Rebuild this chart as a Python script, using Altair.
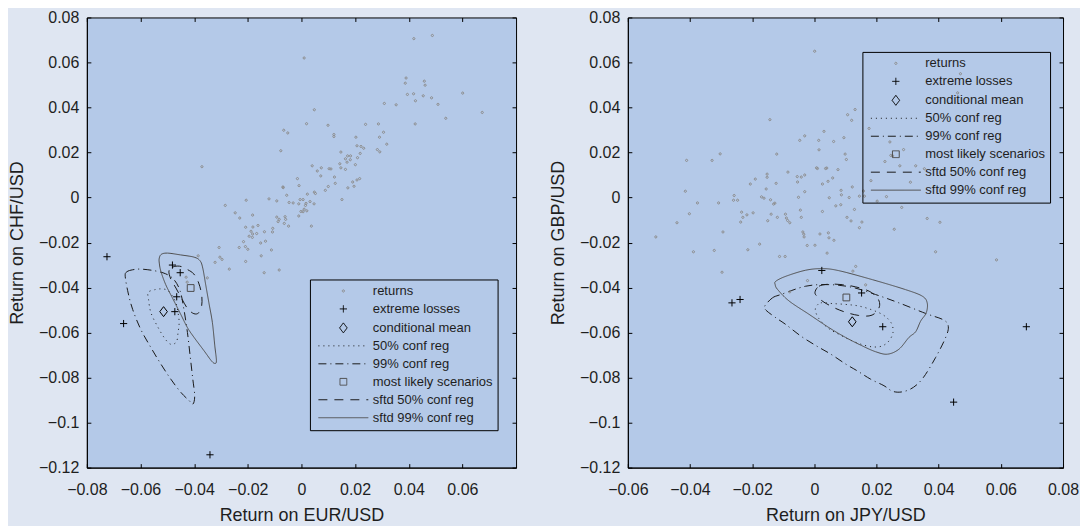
import altair as alt
import pandas as pd

SERIES = ["returns", "extreme losses", "conditional mean", "50% conf reg",
          "99% conf reg", "most likely scenarios", "sftd 50% conf reg", "sftd 99% conf reg"]

# ---------------- left panel (EUR/USD vs CHF/USD) ----------------
L_RET_X = [0.0419, 0.0488, 0.0010, 0.0390, 0.0387, 0.0458, 0.0461, 0.0395, 0.0418, 0.0425,
           0.0454, 0.0485, 0.0601, 0.0509, 0.0538, 0.0674, 0.0309, 0.0353, 0.0424, 0.0239,
           0.0287, 0.0048, 0.0019, 0.0099, -0.0066, -0.0051, 0.0121, 0.0121, 0.0306, 0.0291,
           0.0203, 0.0318, 0.0207, 0.0222, 0.0232, 0.0219, 0.0283, 0.0292, -0.0077, -0.0371,
           0.0147, 0.0164, 0.0172, 0.0183, 0.0182, 0.0170, 0.0143, 0.0147, 0.0164, 0.0201,
           0.0209, 0.0040, 0.0059, 0.0074, 0.0103, 0.0110, 0.0072, 0.0123, 0.0126, 0.0100,
           0.0089, 0.0048, 0.0052, 0.0022, 0.0173, 0.0191, 0.0207, 0.0217, 0.0196, 0.0151,
           -0.0015, -0.0009, -0.0069, -0.0068, -0.0055, -0.0121, -0.0092, -0.0046, -0.0031, -0.0010,
           -0.0005, 0.0006, 0.0017, 0.0032, 0.0047, 0.0015, 0.0010, 0.0020, -0.0002, 0.0006,
           -0.0010, 0.0037, -0.0284, -0.0247, -0.0230, -0.0206, -0.0182, -0.0092, -0.0083, -0.0087,
           -0.0061, -0.0059, -0.0064, -0.0048, -0.0208, -0.0181, -0.0162, -0.0188, -0.0182, -0.0195,
           -0.0183, -0.0167, -0.0138, -0.0107, -0.0108, -0.0216, -0.0232, -0.0209, -0.0200, -0.0152,
           -0.0134, -0.0112, -0.0150, -0.0307, -0.0304, -0.0296, -0.0385, -0.0322, -0.0208, -0.0269,
           -0.0139, -0.0083, -0.0351, -0.0430, -0.0426]
L_RET_Y = [0.0706, 0.0720, 0.0620, 0.0531, 0.0508, 0.0517, 0.0499, 0.0458, 0.0461, 0.0430,
           0.0452, 0.0443, 0.0464, 0.0414, 0.0352, 0.0378, 0.0418, 0.0412, 0.0327, 0.0325,
           0.0327, 0.0390, 0.0328, 0.0321, 0.0299, 0.0287, 0.0280, 0.0271, 0.0290, 0.0268,
           0.0268, 0.0237, 0.0230, 0.0227, 0.0219, 0.0196, 0.0213, 0.0203, 0.0208, 0.0137,
           0.0202, 0.0172, 0.0185, 0.0185, 0.0168, 0.0157, 0.0150, 0.0132, 0.0125, 0.0146,
           0.0177, 0.0141, 0.0118, 0.0132, 0.0128, 0.0127, 0.0096, 0.0091, 0.0063, 0.0049,
           0.0032, 0.0024, 0.0018, 0.0015, 0.0043, 0.0069, 0.0078, 0.0084, 0.0050, -0.0009,
           0.0084, 0.0053, 0.0047, 0.0044, 0.0010, -0.0006, -0.0015, -0.0022, -0.0024, -0.0028,
           -0.0009, -0.0009, -0.0026, -0.0018, -0.0028, -0.0035, -0.0052, -0.0059, -0.0062, -0.0063,
           -0.0082, -0.0127, -0.0035, -0.0068, -0.0091, -0.0012, -0.0078, -0.0087, -0.0097, -0.0107,
           -0.0085, -0.0097, -0.0115, -0.0127, -0.0132, -0.0131, -0.0124, -0.0150, -0.0162, -0.0172,
           -0.0177, -0.0160, -0.0152, -0.0137, -0.0153, -0.0196, -0.0222, -0.0218, -0.0230, -0.0202,
           -0.0194, -0.0233, -0.0259, -0.0222, -0.0265, -0.0275, -0.0259, -0.0288, -0.0284, -0.0318,
           -0.0334, -0.0322, -0.0357, -0.0354, -0.0376]
L_LOSS_X = [-0.0725, -0.0663, -0.0481, -0.0452, -0.0465, -0.0472, -0.0341]
L_LOSS_Y = [-0.0263, -0.0560, -0.0300, -0.0334, -0.0441, -0.0507, -0.1143]
L_MEAN_X = [-0.0514]
L_MEAN_Y = [-0.0507]
L_MLS_X = [-0.0413]
L_MLS_Y = [-0.0402]
L_C50_X = [-0.0571, -0.0570, -0.0561, -0.0536, -0.0509, -0.0487, -0.0466, -0.0460, -0.0456,
           -0.0460, -0.0468, -0.0481, -0.0499, -0.0522, -0.0545]
L_C50_Y = [-0.0421, -0.0453, -0.0512, -0.0574, -0.0627, -0.0652, -0.0641, -0.0600, -0.0556,
           -0.0512, -0.0468, -0.0438, -0.0412, -0.0406, -0.0409]
L_C99_X = [-0.0657, -0.0651, -0.0629, -0.0599, -0.0549, -0.0506, -0.0475, -0.0452, -0.0438,
           -0.0425, -0.0415, -0.0405, -0.0398, -0.0404, -0.0419, -0.0450, -0.0487, -0.0524,
           -0.0561, -0.0599, -0.0629, -0.0646]
L_C99_Y = [-0.0350, -0.0330, -0.0321, -0.0318, -0.0325, -0.0339, -0.0365, -0.0416, -0.0498,
           -0.0600, -0.0703, -0.0807, -0.0880, -0.0917, -0.0902, -0.0865, -0.0807, -0.0740,
           -0.0667, -0.0586, -0.0498, -0.0424]
L_S50_X = [-0.0494, -0.0480, -0.0454, -0.0428, -0.0401, -0.0383, -0.0372, -0.0372, -0.0383,
           -0.0401, -0.0424, -0.0446, -0.0468, -0.0487]
L_S50_Y = [-0.0327, -0.0309, -0.0305, -0.0318, -0.0340, -0.0380, -0.0433, -0.0481, -0.0512,
           -0.0516, -0.0494, -0.0450, -0.0402, -0.0362]
L_S99_X = [-0.0530, -0.0522, -0.0499, -0.0450, -0.0400, -0.0378, -0.0368, -0.0357, -0.0345,
           -0.0332, -0.0323, -0.0317, -0.0323, -0.0336, -0.0363, -0.0400, -0.0425, -0.0450,
           -0.0481, -0.0506, -0.0524, -0.0530]
L_S99_Y = [-0.0269, -0.0252, -0.0247, -0.0255, -0.0265, -0.0281, -0.0313, -0.0387, -0.0468,
           -0.0556, -0.0659, -0.0725, -0.0737, -0.0725, -0.0681, -0.0622, -0.0578, -0.0519,
           -0.0446, -0.0387, -0.0328, -0.0291]

# ---------------- right panel (JPY/USD vs GBP/USD) ----------------
R_RET_X = [0.0001, -0.0143, -0.0411, -0.0329, -0.0303, -0.0415, -0.0376, -0.0402, -0.0442, -0.0510,
           -0.0389, -0.0322, -0.0294, -0.0308, -0.0258, -0.0260, -0.0247, -0.0234, -0.0237, -0.0230,
           -0.0217, -0.0206, -0.0190, -0.0197, -0.0214, -0.0176, -0.0170, -0.0162, -0.0155, -0.0152,
           -0.0152, -0.0150, -0.0141, -0.0131, -0.0127, -0.0139, -0.0123, -0.0121, -0.0119, -0.0112,
           -0.0094, -0.0093, -0.0090, -0.0086, -0.0079, -0.0085, -0.0055, -0.0054, -0.0042, -0.0031,
           -0.0051, -0.0045, -0.0042, -0.0047, -0.0031, -0.0031, -0.0037, -0.0034, -0.0033, -0.0023,
           0.0002, 0.0007, 0.0010, 0.0014, 0.0015, 0.0026, 0.0026, 0.0018, 0.0031, 0.0036,
           0.0040, 0.0041, 0.0044, 0.0045, 0.0047, 0.0048, 0.0059, 0.0062, 0.0063, 0.0069,
           0.0076, 0.0085, 0.0086, 0.0087, 0.0095, 0.0099, 0.0103, 0.0105, 0.0107, 0.0112,
           0.0118, 0.0120, 0.0122, 0.0129, 0.0131, 0.0145, 0.0145, 0.0153, 0.0158, 0.0161,
           0.0176, 0.0182, 0.0202, 0.0227, 0.0232, 0.0243, 0.0246, 0.0252, 0.0257, 0.0281,
           0.0275, 0.0287, 0.0309, 0.0326, 0.0354, 0.0363, 0.0390, 0.0404, 0.0461, 0.0470,
           0.0586, -0.0297, 0.0133, 0.0124, -0.0022, -0.0079, 0.0165]
R_RET_Y = [0.0650, 0.0346, 0.0165, 0.0165, 0.0194, 0.0028, -0.0024, -0.0072, -0.0112, -0.0175,
           -0.0241, -0.0235, -0.0153, -0.0024, 0.0009, -0.0012, -0.0012, -0.0065, -0.0109, -0.0088,
           -0.0077, 0.0060, 0.0082, -0.0068, -0.0232, -0.0207, 0.0003, -0.0003, 0.0038, 0.0104,
           0.0090, -0.0103, -0.0010, -0.0029, -0.0025, -0.0074, 0.0063, 0.0193, -0.0088, -0.0262,
           -0.0262, -0.0074, -0.0091, -0.0102, -0.0112, 0.0113, 0.0093, 0.0069, 0.0091, 0.0100,
           0.0001, -0.0056, -0.0088, 0.0254, 0.0274, 0.0026, -0.0153, -0.0163, -0.0175, -0.0213,
           -0.0212, 0.0132, 0.0129, 0.0254, 0.0212, 0.0060, -0.0062, -0.0162, 0.0294, 0.0129,
           0.0131, -0.0247, 0.0072, -0.0157, -0.0179, -0.0001, 0.0087, 0.0249, -0.0190, -0.0037,
           0.0124, -0.0032, 0.0032, 0.0012, 0.0266, 0.0193, 0.0169, -0.0088, 0.0368, 0.0000,
           -0.0104, 0.0343, 0.0047, -0.0053, 0.0391, -0.0134, 0.0006, -0.0109, 0.0029, 0.0006,
           0.0307, 0.0075, -0.0016, 0.0160, 0.0004, 0.0247, 0.0187, 0.0185, -0.0141, -0.0044,
           0.0141, 0.0213, 0.0068, 0.0141, 0.0128, -0.0093, -0.0241, -0.0110, 0.0465, 0.0550,
           -0.0277, -0.0332, -0.0306, -0.0327, -0.0369, -0.0419, -0.0388]
R_LOSS_X = [0.0024, 0.0152, 0.0220, -0.0239, -0.0265, 0.0682, 0.0448]
R_LOSS_Y = [-0.0324, -0.0424, -0.0574, -0.0453, -0.0468, -0.0574, -0.0909]
R_MEAN_X = [0.0122]
R_MEAN_Y = [-0.0552]
R_MLS_X = [0.0103]
R_MLS_Y = [-0.0444]
R_C50_X = [0.0004, 0.0021, 0.0058, 0.0101, 0.0143, 0.0187, 0.0224, 0.0248, 0.0253, 0.0240,
           0.0219, 0.0192, 0.0160, 0.0122, 0.0085, 0.0047, 0.0021, 0.0007]
R_C50_Y = [-0.0490, -0.0468, -0.0471, -0.0475, -0.0482, -0.0500, -0.0524, -0.0559, -0.0600,
           -0.0637, -0.0659, -0.0664, -0.0656, -0.0637, -0.0612, -0.0583, -0.0549, -0.0519]
R_C99_X = [-0.0159, -0.0135, -0.0108, -0.0028, 0.0047, 0.0122, 0.0197, 0.0272, 0.0358, 0.0416,
           0.0431, 0.0422, 0.0390, 0.0351, 0.0319, 0.0284, 0.0252, 0.0224, 0.0181, 0.0138,
           0.0101, 0.0053, 0.0004, -0.0044, -0.0092, -0.0124, -0.0156]
R_C99_Y = [-0.0481, -0.0446, -0.0431, -0.0394, -0.0387, -0.0399, -0.0431, -0.0468, -0.0515, -0.0544,
           -0.0574, -0.0623, -0.0711, -0.0799, -0.0843, -0.0863, -0.0861, -0.0836, -0.0807, -0.0770,
           -0.0740, -0.0696, -0.0657, -0.0615, -0.0564, -0.0534, -0.0500]
R_S50_X = [0.0002, 0.0015, 0.0047, 0.0090, 0.0133, 0.0176, 0.0203, 0.0210, 0.0197, 0.0176,
           0.0143, 0.0106, 0.0069, 0.0031, 0.0010]
R_S50_Y = [-0.0421, -0.0394, -0.0385, -0.0387, -0.0397, -0.0416, -0.0446, -0.0480, -0.0512, -0.0526,
           -0.0524, -0.0512, -0.0493, -0.0465, -0.0441]
R_S99_X = [-0.0124, -0.0092, -0.0028, 0.0026, 0.0079, 0.0187, 0.0293, 0.0347, 0.0363, 0.0360,
           0.0342, 0.0326, 0.0304, 0.0272, 0.0235, 0.0197, 0.0154, 0.0101, 0.0047, -0.0017,
           -0.0081, -0.0118, -0.0126]
R_S99_Y = [-0.0372, -0.0350, -0.0323, -0.0316, -0.0325, -0.0365, -0.0409, -0.0438, -0.0468, -0.0512,
           -0.0549, -0.0596, -0.0622, -0.0674, -0.0696, -0.0685, -0.0659, -0.0622, -0.0578, -0.0519,
           -0.0460, -0.0409, -0.0387]

L_X_TICKS = [-0.08, -0.06, -0.04, -0.02, 0, 0.02, 0.04, 0.06]
R_X_TICKS = [-0.06, -0.04, -0.02, 0, 0.02, 0.04, 0.06, 0.08]
Y_TICKS = [-0.12, -0.1, -0.08, -0.06, -0.04, -0.02, 0, 0.02, 0.04, 0.06, 0.08]

# ---------------- styles ----------------
SHAPES = [
    "M-0.28,0A0.28,0.28 0 1,0 0.28,0A0.28,0.28 0 1,0 -0.28,0Z",
    "M-0.9,0H0.9M0,-0.9V0.9",
    "M0,-1.25L0.95,0L0,1.25L-0.95,0Z",
    "M-6.25,0H6.25",
    "M-6.25,0H6.25",
    "M-0.85,-0.85H0.85V0.85H-0.85Z",
    "M-6.25,0H6.25",
    "M-6.25,0H6.25",
]
COLORS = ["#8c8c8c", "#000000", "#000000", "#1a1a1a", "#1a1a1a", "#4d4d4d", "#1a1a1a", "#4d4d4d"]
DASHES = [[1, 0], [1, 0], [1, 0], [1, 4], [8, 4, 1, 4], [1, 0], [9, 7], [1, 0]]

TXT = "#1e1e1e"
INWARD = {"expr": "-4"}
PLOT_H = 451


def point_frame(groups):
    rows = []
    for name, xs, ys in groups:
        for x, y in zip(xs, ys):
            rows.append({"x": x, "y": y, "series": name})
    return pd.DataFrame(rows)


def line_frame(groups):
    rows = []
    for name, xs, ys in groups:
        for i, (x, y) in enumerate(zip(xs, ys)):
            rows.append({"x": x, "y": y, "series": name, "i": i})
    return pd.DataFrame(rows)


def panel(pts, lines, xdom, xticks, xtitle, ytitle, width, lx, ly):
    xs = alt.Scale(domain=xdom, nice=False, zero=False)
    ys = alt.Scale(domain=[-0.12, 0.08], nice=False, zero=False)
    leg = alt.Legend(orient="none", legendX=lx, legendY=ly, title=None)
    color = alt.Color("series:N", scale=alt.Scale(domain=SERIES, range=COLORS), legend=leg)
    shape = alt.Shape("series:N", scale=alt.Scale(domain=SERIES, range=SHAPES), legend=leg)
    dash = alt.StrokeDash("series:N", scale=alt.Scale(domain=SERIES, range=DASHES), legend=leg)

    x_bottom = alt.Axis(orient="bottom", values=xticks, format=".2~f", title=xtitle,
                        tickSize=INWARD, labelPadding=18, titlePadding=9, domain=True,
                        labelOverlap=False, labelFlush=False)
    y_left = alt.Axis(orient="left", values=Y_TICKS, format=".2~f", title=ytitle,
                      tickSize=INWARD, labelPadding=12, titlePadding=12, domain=True,
                      labelOverlap=False, labelFlush=False)
    x_top = alt.Axis(orient="top", values=xticks, labels=False, title=None,
                     tickSize=INWARD, domain=False)
    y_right = alt.Axis(orient="right", values=Y_TICKS, labels=False, title=None,
                       tickSize=INWARD, domain=False)

    line_layer = alt.Chart(lines).mark_line(strokeWidth=1, interpolate="cardinal-closed").encode(
        x=alt.X("x:Q", scale=xs, axis=x_top),
        y=alt.Y("y:Q", scale=ys, axis=y_right),
        order=alt.Order("i:Q"),
        color=color,
        strokeDash=dash,
    )
    point_layer = alt.Chart(pts).mark_point(filled=False, size=64, strokeWidth=1, opacity=1).encode(
        x=alt.X("x:Q", scale=xs, axis=x_bottom),
        y=alt.Y("y:Q", scale=ys, axis=y_left),
        shape=shape,
        color=color,
    )
    return alt.layer(line_layer, point_layer).resolve_axis(
        x="independent", y="independent").properties(width=width, height=PLOT_H)


left_pts = point_frame([
    ("returns", L_RET_X, L_RET_Y),
    ("extreme losses", L_LOSS_X, L_LOSS_Y),
    ("conditional mean", L_MEAN_X, L_MEAN_Y),
    ("most likely scenarios", L_MLS_X, L_MLS_Y),
])
left_lines = line_frame([
    ("50% conf reg", L_C50_X, L_C50_Y),
    ("99% conf reg", L_C99_X, L_C99_Y),
    ("sftd 50% conf reg", L_S50_X, L_S50_Y),
    ("sftd 99% conf reg", L_S99_X, L_S99_Y),
])
right_pts = point_frame([
    ("returns", R_RET_X, R_RET_Y),
    ("extreme losses", R_LOSS_X, R_LOSS_Y),
    ("conditional mean", R_MEAN_X, R_MEAN_Y),
    ("most likely scenarios", R_MLS_X, R_MLS_Y),
])
right_lines = line_frame([
    ("50% conf reg", R_C50_X, R_C50_Y),
    ("99% conf reg", R_C99_X, R_C99_Y),
    ("sftd 50% conf reg", R_S50_X, R_S50_Y),
    ("sftd 99% conf reg", R_S99_X, R_S99_Y),
])

left = panel(left_pts, left_lines, [-0.08, 0.08], L_X_TICKS,
             "Return on EUR/USD", "Return on CHF/USD", 430, 223.5, 262.5)
right = panel(right_pts, right_lines, [-0.06, 0.08], R_X_TICKS,
              "Return on JPY/USD", "Return on GBP/USD", 436, 235, 34.5)

chart = alt.hconcat(left, right, spacing=32).resolve_scale(
    color="independent", shape="independent", strokeDash="independent"
).properties(
    background="#dfe6f2",
    padding={"left": 0, "top": 0, "right": 0, "bottom": 0},
).configure(
    font="Liberation Sans",
).configure_view(
    fill="#b4c9e8", stroke="#000000", strokeWidth=1,
).configure_axis(
    grid=False, domainColor="#000000", tickColor="#000000", tickWidth=1,
    labelColor=TXT, titleColor=TXT, labelFont="Liberation Sans", titleFont="Liberation Sans",
    labelFontSize=16, titleFontSize=18, titleFontWeight="normal",
).configure_legend(
    strokeColor="#000000", padding=5, labelFontSize=13, labelFont="Liberation Sans",
    labelColor=TXT, symbolSize=64, symbolStrokeWidth=1, rowPadding=4,
    symbolOffset=22, labelOffset=23, labelLimit=300,
)

chart.save("out.html", embed_options={"renderer": "svg", "actions": False})
